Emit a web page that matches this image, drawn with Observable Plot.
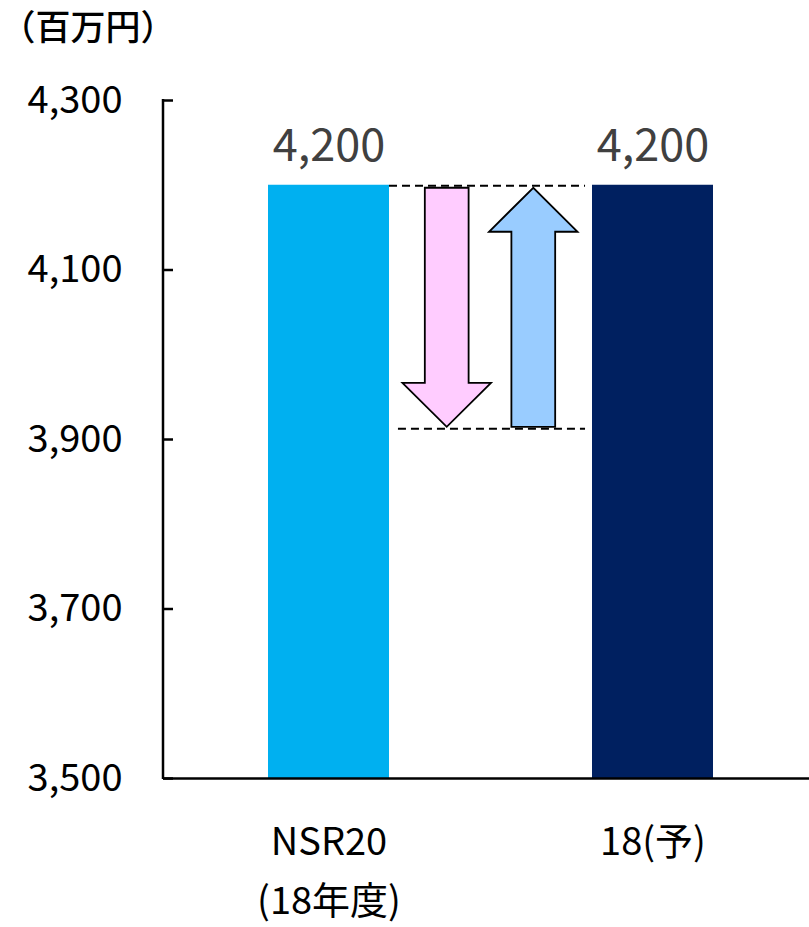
<!DOCTYPE html>
<html><head><meta charset="utf-8">
<script src="https://cdn.jsdelivr.net/npm/d3@7"></script>
<script src="https://cdn.jsdelivr.net/npm/@observablehq/plot@0.6"></script>
<style>body{margin:0;background:#fff}</style>
</head><body><div id="chart"></div>
<script>
const unitLabel = "（百万円）";
const categories = ["NSR20\n(18年度)", "18(予)"];
const values = [4200, 4200];
const valueLabels = ["4,200", "4,200"];
const barColors = ["#00B0F0", "#002060"];
const yTicks = [3500, 3700, 3900, 4100, 4300];
const yTickLabels = ["3,500", "3,700", "3,900", "4,100", "4,300"];
const bridgeLow = 3912;
const arrows = [
  {dir: "down", from: 4200, to: 3912, fill: "#FFCCFF"},
  {dir: "up", from: 3912, to: 4200, fill: "#99CCFF"}
];

const bars = categories.map((c, i) => ({cat: c, value: values[i], color: barColors[i], label: valueLabels[i]}));
const FONT = '"Noto Sans CJK JP", "Noto Sans", sans-serif';

function bridge(index, scales, channels, dims) {
  const x = scales.x, y = scales.y;
  const bw = x.bandwidth ? x.bandwidth() : scales.scales.x.bandwidth;
  const gx0 = x(categories[0]) + bw, gx1 = x(categories[1]);
  const gap = gx1 - gx0;
  const g = d3.create("svg:g");
  g.append("line")
    .attr("x1", dims.marginLeft).attr("x2", dims.marginLeft)
    .attr("y1", y(yTicks[yTicks.length - 1]) - 1).attr("y2", y(yTicks[0]) + 1)
    .attr("stroke", "black").attr("stroke-width", 2.5);
  const yTop = y(values[0]), yLow = y(bridgeLow);
  g.append("line").attr("x1", gx0).attr("x2", gx0 + gap * 197 / 204)
    .attr("y1", yTop + 1).attr("y2", yTop + 1)
    .attr("stroke", "black").attr("stroke-width", 2).attr("stroke-dasharray", "8,5");
  g.append("line").attr("x1", gx0 + gap * 9 / 204).attr("x2", gx0 + gap * 197 / 204)
    .attr("y1", yLow).attr("y2", yLow)
    .attr("stroke", "black").attr("stroke-width", 2).attr("stroke-dasharray", "8,5");
  const centers = [58 / 204, 145 / 204];
  const sw = gap * 22 / 204, hw = gap * 44.5 / 204, hl = 44;
  arrows.forEach((a, i) => {
    const cx = gx0 + gap * centers[i];
    const ya = y(a.from), yb = y(a.to);
    let pts;
    if (a.dir === "down") {
      const y0 = ya + 3, yt = yb - 2;
      pts = [[cx - sw, y0], [cx + sw, y0], [cx + sw, yt - hl], [cx + hw, yt - hl], [cx, yt], [cx - hw, yt - hl], [cx - sw, yt - hl]];
    } else {
      const y0 = ya - 2, yt = yb + 3;
      pts = [[cx - sw, y0], [cx + sw, y0], [cx + sw, yt + hl], [cx + hw, yt + hl], [cx, yt], [cx - hw, yt + hl], [cx - sw, yt + hl]];
    }
    g.append("polygon").attr("points", pts.map(p => p.join(",")).join(" "))
      .attr("fill", a.fill).attr("stroke", "black").attr("stroke-width", 1.8).attr("stroke-linejoin", "miter");
  });
  return g.node();
}

const chart = Plot.plot({
  width: 809, height: 927,
  marginLeft: 163, marginRight: 0, marginTop: 100, marginBottom: 149,
  x: {domain: categories, range: [171, 809], paddingInner: 0.6277, paddingOuter: 0.2954, axis: null},
  y: {domain: [3500, 4300], axis: null},
  color: {type: "identity"},
  style: {fontFamily: FONT, background: "white", color: "black"},
  marks: [
    Plot.barY(bars, {x: "cat", y1: 3500, y2: "value", fill: "color"}),
    Plot.ruleY([yTicks[0]], {stroke: "black", strokeWidth: 2.5}),
    Plot.axisY(yTicks, {label: null, tickSize: -10, tickPadding: 51, strokeWidth: 2.5, fontSize: 38,
      tickFormat: d => yTickLabels[yTicks.indexOf(d)]}),
    bridge,
    Plot.text(bars, {x: "cat", y: "value", text: "label", dy: -24, lineAnchor: "bottom", fontSize: 45, fill: "#404040"}),
    Plot.text(bars, {x: "cat", y: yTicks[0], text: "cat", dy: 35, lineAnchor: "top", lineHeight: 1.55, fontSize: 38, fill: "black"}),
    Plot.text([unitLabel], {text: d => d, frameAnchor: "top-left", dx: -163, dy: -61, lineAnchor: "bottom",
      textAnchor: "start", fontSize: 35, fontWeight: 500, fill: "black"})
  ]
});
document.getElementById("chart").append(chart);
</script>
</body></html>
